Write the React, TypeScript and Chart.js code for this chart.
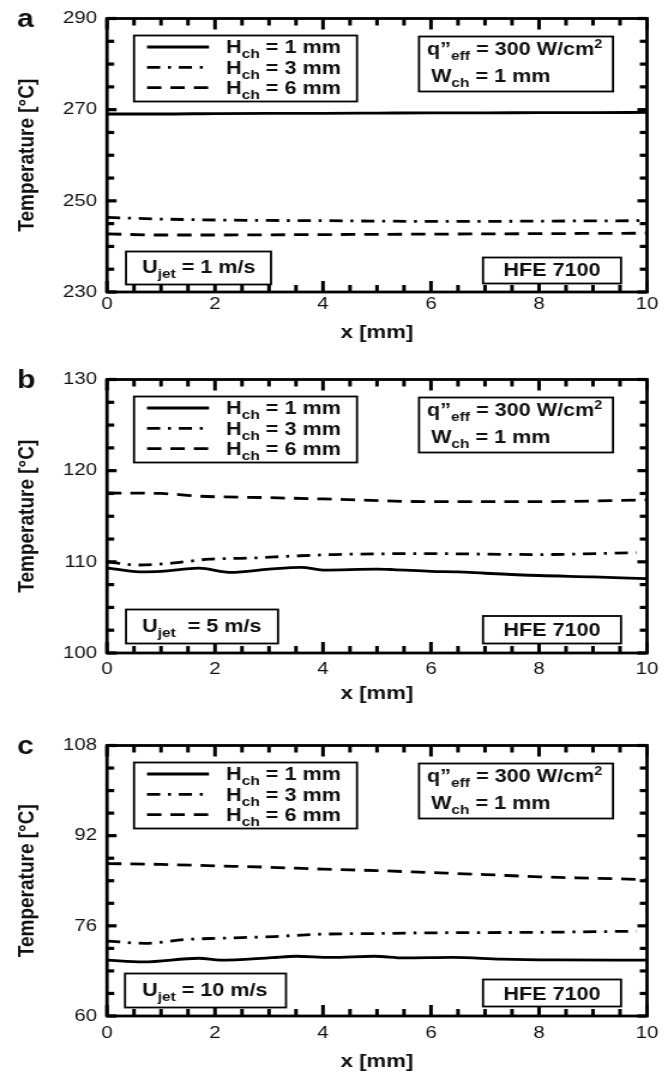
import React, { useEffect, useRef } from "react";
import { Chart, registerables } from "chart.js";
Chart.register(...registerables);

const FONT = "'Liberation Sans', Arial, Helvetica, sans-serif";
const CW = 557;
const SX = 668 / CW;

// ---------- axes ----------
const X_MIN = 0;
const X_MAX = 10;
const X_STEP = 2;
const X_MINOR = 0.5;
const X_TITLE = "x [mm]";
const Y_TITLE = "Temperature [°C]";

// ---------- panel a : U_jet = 1 m/s ----------
const A_Y = [230, 290, 20, 5]; // min, max, major step, minor step
const A_X = [0, 1, 2, 3, 4, 5, 6, 7, 8, 9, 10];
const A_H1 = [269.05, 269.05, 269.15, 269.2, 269.2, 269.25, 269.3, 269.3, 269.35, 269.35, 269.4];
const A_H3 = [246.35, 246.0, 245.8, 245.7, 245.65, 245.55, 245.5, 245.5, 245.55, 245.6, 245.65];
const A_H6 = [242.75, 242.5, 242.5, 242.55, 242.6, 242.65, 242.7, 242.75, 242.8, 242.85, 242.9];

// ---------- panel b : U_jet = 5 m/s ----------
const B_Y = [100, 130, 10, 2.5];
const B_H1_X = [0, 0.6, 1.0, 1.7, 2.3, 3.0, 3.6, 4.0, 5.0, 5.3, 6.0, 6.5, 7.0, 8.0, 9.0, 10];
const B_H1 = [109.35, 108.9, 108.95, 109.3, 108.85, 109.2, 109.4, 109.1, 109.2, 109.15, 108.95, 108.9, 108.75, 108.5, 108.35, 108.15];
const B_H3_X = [0, 0.6, 1.2, 1.9, 2.6, 3.5, 4.2, 5.9, 8.0, 9.8];
const B_H3 = [110.0, 109.65, 109.85, 110.3, 110.4, 110.65, 110.8, 110.9, 110.8, 111.0];
const B_H6_X = [0, 1.0, 1.7, 2.9, 4.0, 6.0, 8.0, 10];
const B_H6 = [117.55, 117.5, 117.2, 117.05, 116.9, 116.6, 116.6, 116.8];

// ---------- panel c : U_jet = 10 m/s ----------
const C_Y = [60, 108, 16, 4];
const C_H1_X = [0, 0.67, 1.7, 2.1, 3.05, 3.5, 4.15, 4.95, 5.5, 6.4, 7.3, 8.3, 10];
const C_H1 = [69.9, 69.6, 70.25, 69.9, 70.35, 70.6, 70.4, 70.6, 70.3, 70.4, 70.1, 69.95, 69.9];
const C_H3_X = [0, 0.7, 1.5, 2.1, 3.1, 3.9, 5.1, 5.9, 8.0, 9.8];
const C_H3 = [73.3, 72.9, 73.6, 73.8, 74.1, 74.5, 74.65, 74.75, 74.85, 75.05];
const C_H6_X = [0, 1, 2, 3, 4, 5, 6, 7, 8, 9, 10];
const C_H6 = [87.05, 86.9, 86.65, 86.4, 86.05, 85.8, 85.45, 85.1, 84.7, 84.45, 84.2];

// ---------- texts ----------
const LEGEND_H = ["1", "3", "6"];
const Q_EFF = "300";
const W_CH = "1";
const FLUID = "HFE 7100";
const U_JET = [" = 1 m/s", "  = 5 m/s", " = 10 m/s"];
const LETTERS = ["a", "b", "c"];

// ---------- styles ----------
const DASHES: number[][] = [[], [11, 6.5, 2.5, 6.5], [12, 7.5]];

type Part = { t: string; k?: "sub" | "sup" };

function drawRich(ctx: CanvasRenderingContext2D, x: number, y: number, parts: Part[], draw = true) {
  let cx = x;
  for (const p of parts) {
    const size = p.k === "sub" ? 13 : p.k === "sup" ? 12 : 18;
    const dy = p.k === "sub" ? 5 : p.k === "sup" ? -6.5 : 0;
    ctx.font = `bold ${size}px ${FONT}`;
    if (draw) ctx.fillText(p.t, cx, y + dy);
    cx += ctx.measureText(p.t).width;
  }
  return cx - x;
}

function zip(xs: number[], ys: number[]) {
  return xs.map((x, i) => ({ x, y: ys[i] }));
}

const PANELS = [
  {
    top: 0, h: 344, bottomRel: 292, yr: A_Y, xPad: 2.5,
    series: [zip(A_X, A_H1), zip(A_X, A_H3), zip(A_X, A_H6)],
    uBox: [19, 164, 233, 266], uBase: 254, hfeBox: [376, 514, 239, 265], hfeBase: 257,
  },
  {
    top: 361, h: 344, bottomRel: 292, yr: B_Y, xPad: 6,
    series: [zip(B_H1_X, B_H1), zip(B_H3_X, B_H3), zip(B_H6_X, B_H6)],
    uBox: [19, 171, 230, 264], uBase: 252, hfeBox: [376, 514, 236.5, 264], hfeBase: 256,
  },
  {
    top: 727, h: 346, bottomRel: 289, yr: C_Y, xPad: 7,
    series: [zip(C_H1_X, C_H1), zip(C_H3_X, C_H3), zip(C_H6_X, C_H6)],
    uBox: [18, 179, 228, 262], uBase: 250, hfeBox: [376, 514, 234, 261], hfeBase: 254,
  },
];

function makePlugin(idx: number) {
  const cfg = PANELS[idx];
  return {
    id: "frame" + idx,
    afterDraw(chart: any) {
      const ctx: CanvasRenderingContext2D = chart.ctx;
      const area = chart.chartArea;
      const left = area.left, right = area.right, top = area.top, bottom = area.bottom;
      const xs = chart.scales.x;
      const ys = chart.scales.y;
      const yMin = cfg.yr[0], yMax = cfg.yr[1], yStep = cfg.yr[2], yMinor = cfg.yr[3];
      const X = (rel: number) => left + rel / SX;
      const Y = (rel: number) => top + rel;
      ctx.save();
      ctx.setLineDash([]);
      ctx.fillStyle = "#000";
      // x ticks (inward, bottom and top)
      const nx = Math.round((X_MAX - X_MIN) / X_MINOR);
      const perX = Math.round(X_STEP / X_MINOR);
      for (let i = 0; i <= nx; i++) {
        const px = xs.getPixelForValue(X_MIN + i * X_MINOR);
        const L = i % perX === 0 ? 11 : 7;
        ctx.fillRect(px - 1.5, bottom - L, 3, L);
        ctx.fillRect(px - 1.5, top, 3, L);
      }
      // y ticks (inward, left and right)
      const ny = Math.round((yMax - yMin) / yMinor);
      const perY = Math.round(yStep / yMinor);
      for (let i = 0; i <= ny; i++) {
        const py = ys.getPixelForValue(yMin + i * yMinor);
        const L = i % perY === 0 ? 8 : 6;
        ctx.fillRect(left, py - 1.6, L, 3.2);
        ctx.fillRect(right - L, py - 1.6, L, 3.2);
      }
      // frame
      ctx.strokeStyle = "#000";
      ctx.lineWidth = 2.8;
      ctx.strokeRect(left, top, right - left, bottom - top);

      // boxes
      const box = (b: number[]) => {
        ctx.fillStyle = "#fff";
        ctx.fillRect(X(b[0]), Y(b[2]), (b[1] - b[0]) / SX, b[3] - b[2]);
        ctx.lineWidth = 1.8;
        ctx.strokeRect(X(b[0]), Y(b[2]), (b[1] - b[0]) / SX, b[3] - b[2]);
        ctx.fillStyle = "#111";
      };
      ctx.textBaseline = "alphabetic";
      ctx.textAlign = "left";
      // legend
      box([27, 250, 17, 83]);
      const bases = [34.8, 55.2, 75.5];
      for (let i = 0; i < 3; i++) {
        const cy = Y(bases[i] - 6.3);
        ctx.lineWidth = 2.8;
        ctx.setLineDash(DASHES[i]);
        ctx.beginPath();
        ctx.moveTo(X(40), cy);
        ctx.lineTo(X(102), cy);
        ctx.stroke();
        ctx.setLineDash([]);
        drawRich(ctx, X(119), Y(bases[i]), [{ t: "H" }, { t: "ch", k: "sub" }, { t: ` = ${LEGEND_H[i]} mm` }]);
      }
      // q box
      box([312, 506, 18, 73]);
      drawRich(ctx, X(320), Y(36), [{ t: "q\u201D" }, { t: "eff", k: "sub" }, { t: ` = ${Q_EFF} W/cm` }, { t: "2", k: "sup" }]);
      drawRich(ctx, X(324), Y(63), [{ t: "W" }, { t: "ch", k: "sub" }, { t: ` = ${W_CH} mm` }]);
      // U box
      box(cfg.uBox);
      drawRich(ctx, X(35), Y(cfg.uBase), [{ t: "U" }, { t: "jet", k: "sub" }, { t: U_JET[idx] }]);
      // HFE box
      box(cfg.hfeBox);
      const hp = [{ t: FLUID }];
      const w = drawRich(ctx, 0, 0, hp, false);
      const cx = (X(cfg.hfeBox[0]) + X(cfg.hfeBox[1])) / 2;
      drawRich(ctx, cx - w / 2, Y(cfg.hfeBase), hp);
      // panel letter
      ctx.font = `bold 25px ${FONT}`;
      ctx.fillText(LETTERS[idx], 17 / SX, 27);
      ctx.restore();
    },
  };
}

function Panel({ idx }: { idx: number }) {
  const ref = useRef<HTMLCanvasElement>(null);
  const cfg = PANELS[idx];
  useEffect(() => {
    const [yMin, yMax, yStep] = cfg.yr;
    const chart = new Chart(ref.current!, {
      type: "line",
      data: {
        datasets: cfg.series.map((d, i) => ({
          data: d,
          borderColor: "#000",
          borderWidth: 2.8,
          borderDash: DASHES[i],
          pointRadius: 0,
          fill: false,
          cubicInterpolationMode: "monotone" as const,
        })),
      },
      options: {
        responsive: false,
        animation: false,
        events: [],
        layout: { padding: { top: 14, left: 0, right: CW - 647 / SX, bottom: 0 } },
        plugins: { legend: { display: false }, tooltip: { enabled: false } },
        scales: {
          x: {
            type: "linear",
            min: X_MIN,
            max: X_MAX,
            grid: { display: false, drawTicks: false },
            border: { display: false },
            ticks: { stepSize: X_STEP, padding: cfg.xPad, color: "#111", font: { family: FONT, size: 17 } },
            title: { display: true, text: X_TITLE, color: "#111", padding: 0, font: { family: FONT, size: 18.5, weight: "bold" } },
            afterFit: (s: any) => { s.height = cfg.h - cfg.bottomRel; },
          },
          y: {
            type: "linear",
            min: yMin,
            max: yMax,
            grid: { display: false, drawTicks: false },
            border: { display: false },
            ticks: { stepSize: yStep, padding: 8.3, color: "#111", font: { family: FONT, size: 17 } },
            title: { display: true, text: Y_TITLE, color: "#111", padding: { top: 11, bottom: 0 }, font: { family: FONT, size: 19, weight: "bold" } },
            afterFit: (s: any) => { s.width = 107 / SX; },
          },
        },
      },
      plugins: [makePlugin(idx)],
    } as any);
    return () => chart.destroy();
  }, []);
  return (
    <div style={{ position: "absolute", left: 0, top: cfg.top, width: CW, height: cfg.h, transform: `scaleX(${SX})`, transformOrigin: "0 0" }}>
      <canvas ref={ref} width={CW} height={cfg.h} />
    </div>
  );
}

export default function App() {
  return (
    <div style={{ position: "absolute", left: 0, top: 0, width: 668, height: 1073, background: "#fff", overflow: "hidden" }}>
      {PANELS.map((_, i) => (
        <Panel key={i} idx={i} />
      ))}
    </div>
  );
}
